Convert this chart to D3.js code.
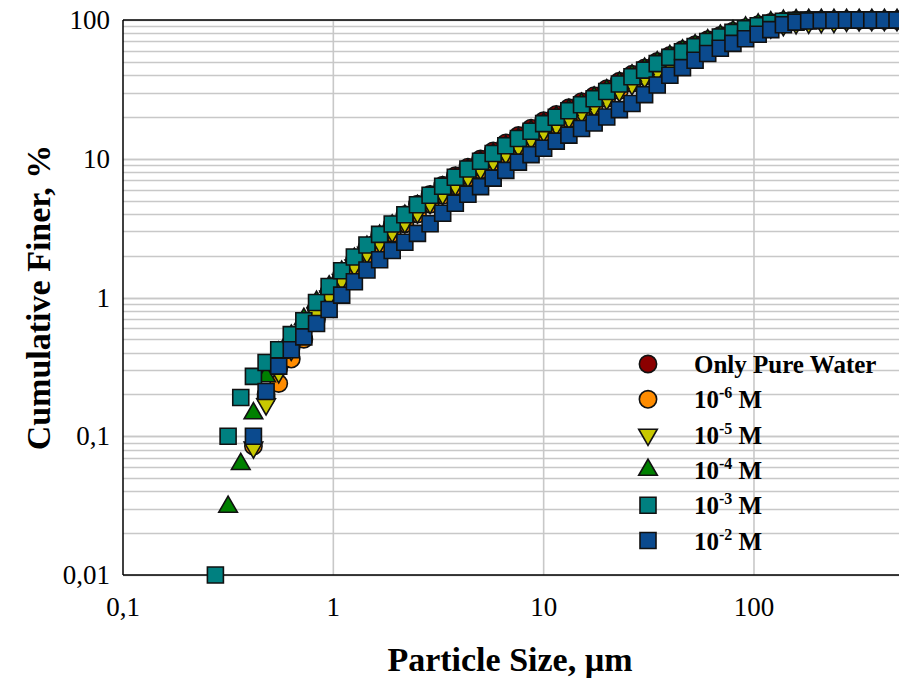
<!DOCTYPE html>
<html lang="en">
	<head>
		<meta charset="UTF-8" />
		<script src="https://d3js.org/d3.v7.min.js"></script>
		<style>
			body { margin: 0; background: #fff; }
			text { font-family: "Liberation Serif", "Times New Roman", serif; fill: #000; }
			.tick-label { font-size: 27px; }
			.axis-title { font-size: 34px; font-weight: bold; }
			.legend-text { font-size: 25px; font-weight: bold; }
		</style>
	</head>
	<body>
		<script>
			// particle size classes (µm)
			var sizes = [0.275, 0.316, 0.363, 0.417, 0.479, 0.550, 0.631, 0.724, 0.832, 0.955,
				1.096, 1.259, 1.445, 1.660, 1.905, 2.188, 2.512, 2.884, 3.311, 3.802,
				4.365, 5.012, 5.754, 6.607, 7.586, 8.710, 10.00, 11.48, 13.18, 15.14,
				17.38, 19.95, 22.91, 26.30, 30.20, 34.67, 39.81, 45.71, 52.48, 60.26,
				69.18, 79.43, 91.20, 104.7, 120.2, 138.0, 158.5, 182.0, 208.9, 239.9,
				275.4, 316.2, 363.1, 416.9, 478.6];

			// cumulative finer (%), null = no point
			var pureWater = [null, null, null, null, 0.19, 0.31, 0.44, 0.60, 0.82, 1.10,
				1.45, 1.85, 2.30, 2.80, 3.35, 3.95, 4.70, 5.52, 6.45, 7.55,
				8.70, 9.95, 11.4, 13.0, 14.7, 16.6, 18.8, 20.9, 23.3, 25.8,
				28.5, 32.0, 36.2, 40.6, 45.2, 50.2, 55.6, 61.0, 66.4, 72.0,
				77.5, 83.2, 88.0, 92.5, 96.0, 98.5, 99.6, 100, 100, 100,
				100, 100, 100, 100, 100];
			var m1e6 = [null, null, null, 0.085, 0.20, 0.24, 0.36, 0.50, 0.70, 0.95,
				1.27, 1.62, 2.02, 2.42, 2.90, 3.40, 4.00, 4.70, 5.45, 6.33,
				7.30, 8.30, 9.45, 10.7, 12.1, 13.7, 15.5, 17.3, 19.4, 21.5,
				24.0, 27.2, 31.0, 35.0, 39.2, 43.8, 48.8, 54.0, 59.2, 65.0,
				70.8, 76.5, 81.8, 86.5, 90.5, 94.0, 96.5, 98.2, 99.2, 99.7,
				100, 100, 100, 100, 100];
			var m1e5 = [null, null, null, 0.083, 0.17, 0.29, 0.42, 0.56, 0.76, 1.02,
				1.34, 1.70, 2.10, 2.50, 2.98, 3.48, 4.10, 4.80, 5.57, 6.47,
				7.43, 8.44, 9.60, 10.9, 12.3, 13.9, 15.8, 17.5, 19.6, 21.6,
				23.9, 26.9, 30.8, 34.5, 38.5, 43.0, 47.8, 52.8, 57.9, 63.5,
				69.0, 74.5, 79.5, 84.5, 88.5, 92.0, 94.8, 95.8, 96.4, 97.0,
				98.8, 99.6, 100, 100, 100];
			var m1e4 = [null, 0.031, 0.063, 0.146, 0.27, 0.40, 0.53, 0.70, 0.93, 1.20,
				1.53, 1.90, 2.32, 2.78, 3.30, 3.87, 4.55, 5.30, 6.20, 7.20,
				8.30, 9.45, 10.8, 12.3, 13.9, 15.8, 17.9, 20.0, 22.4, 24.9,
				27.6, 31.1, 35.3, 39.8, 44.4, 49.5, 54.9, 60.3, 65.6, 71.4,
				77.0, 83.0, 88.0, 92.5, 96.0, 98.5, 99.6, 100, 100, 100,
				100, 100, 100, 100, 100];
			var m1e3 = [0.01, 0.10, 0.19, 0.27, 0.34, 0.42, 0.54, 0.68, 0.92, 1.20,
				1.56, 1.96, 2.39, 2.85, 3.39, 3.95, 4.66, 5.45, 6.33, 7.35,
				8.44, 9.59, 10.9, 12.4, 14.0, 15.8, 17.9, 19.9, 22.2, 24.5,
				27.1, 30.5, 34.6, 39.0, 43.5, 48.5, 53.8, 59.1, 64.3, 70.0,
				75.5, 81.5, 86.5, 91.0, 95.0, 98.0, 99.4, 100, 100, 100,
				100, 100, 100, 100, 100];
			var m1e2 = [null, null, null, 0.10, 0.21, 0.32, 0.42, 0.52, 0.65, 0.82,
				1.04, 1.30, 1.58, 1.87, 2.18, 2.50, 2.90, 3.40, 4.05, 4.78,
				5.55, 6.30, 7.25, 8.25, 9.45, 10.7, 11.9, 13.4, 14.8, 16.5,
				18.1, 20.0, 22.6, 25.0, 29.0, 34.0, 40.0, 45.4, 51.3, 57.3,
				62.5, 67.9, 73.3, 79.0, 85.3, 92.5, 96.6, 98.4, 99.3, 99.7,
				100, 100, 100, 100, 100];

			var seriesNames = ["Only Pure Water", "10|-6| M", "10|-5| M", "10|-4| M", "10|-3| M", "10|-2| M"];
			var seriesValues = [pureWater, m1e6, m1e5, m1e4, m1e3, m1e2];
			var seriesColors = ["#8b0000", "#ff8c00", "#c8c800", "#008000", "#008080", "#0b4a8e"];
			var seriesShapes = ["circle", "circle", "down", "up", "square", "square"];

			var xTicks = [0.1, 1, 10, 100];
			var xTickLabels = ["0,1", "1", "10", "100"];
			var yTicks = [0.01, 0.1, 1, 10, 100];
			var yTickLabels = ["0,01", "0,1", "1", "10", "100"];

			var width = 899, height = 680;
			var plotLeft = 123, plotTop = 20, plotBottom = 575;

			var svg = d3.select("body").append("svg")
				.attr("width", width)
				.attr("height", height);

			var x = d3.scaleLog().domain([0.1, 500]).range([plotLeft, 901]);
			var y = d3.scaleLog().domain([0.01, 100]).range([plotBottom, plotTop]);

			// horizontal grid: every minor step
			var yGrid = [];
			[0.01, 0.1, 1, 10].forEach(function(dec) {
				for (var k = 1; k <= 10; k++) yGrid.push(dec * k);
			});
			svg.append("g").selectAll("line").data(yGrid).enter().append("line")
				.attr("x1", plotLeft).attr("x2", width)
				.attr("y1", function(d) { return Math.round(y(d)) + 0.5; })
				.attr("y2", function(d) { return Math.round(y(d)) + 0.5; })
				.attr("stroke", "#c8c8c8").attr("stroke-width", 1.6);

			// vertical grid at decades only
			svg.append("g").selectAll("line").data([1, 10, 100]).enter().append("line")
				.attr("x1", function(d) { return x(d); })
				.attr("x2", function(d) { return x(d); })
				.attr("y1", plotTop).attr("y2", plotBottom)
				.attr("stroke", "#c8c8c8").attr("stroke-width", 1.6);

			// frame
			svg.append("line").attr("x1", plotLeft).attr("x2", width).attr("y1", plotTop).attr("y2", plotTop)
				.attr("stroke", "#000").attr("stroke-width", 1.5);
			svg.append("line").attr("x1", plotLeft).attr("x2", width).attr("y1", plotBottom).attr("y2", plotBottom)
				.attr("stroke", "#000").attr("stroke-width", 1.5);
			svg.append("line").attr("x1", plotLeft).attr("x2", plotLeft).attr("y1", plotTop).attr("y2", plotBottom)
				.attr("stroke", "#000").attr("stroke-width", 1.5);

			// tick labels
			svg.append("g").selectAll("text").data(xTicks).enter().append("text")
				.attr("class", "tick-label")
				.attr("x", function(d) { return x(d); })
				.attr("y", 616)
				.attr("text-anchor", "middle")
				.text(function(d, i) { return xTickLabels[i]; });
			svg.append("g").selectAll("text").data(yTicks).enter().append("text")
				.attr("class", "tick-label")
				.attr("x", 110)
				.attr("y", function(d) { return y(d) + 9; })
				.attr("text-anchor", "end")
				.text(function(d, i) { return yTickLabels[i]; });

			// axis titles
			svg.append("text").attr("class", "axis-title")
				.attr("x", 510).attr("y", 671)
				.attr("text-anchor", "middle")
				.text("Particle Size, \u00b5m");
			svg.append("text").attr("class", "axis-title")
				.attr("transform", "translate(50," + ((plotTop + plotBottom) / 2) + ") rotate(-90)")
				.attr("text-anchor", "middle")
				.text("Cumulative Finer, %");

			function symbolPath(shape) {
				if (shape == "circle") return d3.symbol().type(d3.symbolCircle).size(235)();
				if (shape == "square") return d3.symbol().type(d3.symbolSquare).size(256)();
				return d3.symbol().type(d3.symbolTriangle).size(150)();
			}
			function rot(shape) { return shape == "down" ? " rotate(180)" : ""; }

			// markers
			seriesValues.forEach(function(vals, s) {
				var pts = [];
				vals.forEach(function(v, i) { if (v != null) pts.push({d: sizes[i], v: v}); });
				svg.append("g").selectAll("path").data(pts).enter().append("path")
					.attr("d", symbolPath(seriesShapes[s]))
					.attr("transform", function(p) {
						return "translate(" + x(p.d) + "," + y(p.v) + ")" + rot(seriesShapes[s]);
					})
					.attr("fill", seriesColors[s])
					.attr("stroke", "#111")
					.attr("stroke-width", 1.6);
			});

			// legend
			var legend = svg.append("g");
			seriesNames.forEach(function(name, s) {
				var ly = 364 + s * 35.3;
				legend.append("path")
					.attr("d", symbolPath(seriesShapes[s]))
					.attr("transform", "translate(648," + ly + ")" + rot(seriesShapes[s]))
					.attr("fill", seriesColors[s])
					.attr("stroke", "#111")
					.attr("stroke-width", 1.6);
				var t = legend.append("text").attr("class", "legend-text")
					.attr("x", 694).attr("y", ly + 9);
				var parts = name.split("|");
				if (parts.length == 1) {
					t.text(name);
				} else {
					t.append("tspan").text(parts[0]);
					t.append("tspan").attr("dy", -10).style("font-size", "16px").text(parts[1]);
					t.append("tspan").attr("dy", 10).text(parts[2]);
				}
			});
		</script>
	</body>
</html>
